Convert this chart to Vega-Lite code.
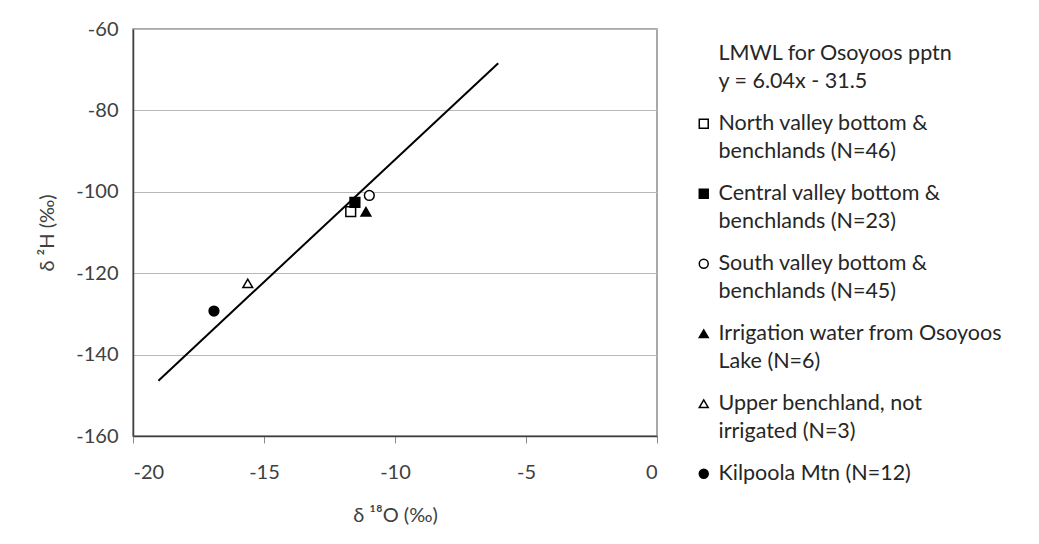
{
  "$schema": "https://vega.github.io/schema/vega-lite/v6.json",
  "width": 524,
  "height": 407,
  "autosize": {"type": "none"},
  "padding": {"left": 133, "top": 29, "right": 382, "bottom": 108},
  "background": "white",
  "config": {
    "font": "Lato",
    "view": {"stroke": "#8c8c8c", "strokeWidth": 1.5},
    "axis": {
      "labelFont": "Lato",
      "labelFontSize": 20,
      "labelColor": "#404040",
      "titleFont": "Lato",
      "titleFontSize": 20,
      "titleFontWeight": "normal",
      "titleColor": "#404040",
      "domainColor": "#404040",
      "domainWidth": 1.5,
      "labelExpr": "replace(datum.label, '−', '-')"
    }
  },
  "layer": [
    {
      "data": {"values": [
        {"d18O": -19.03, "d2H": -146.4},
        {"d18O": -6.06, "d2H": -68.4}
      ]},
      "mark": {"type": "line", "color": "black", "strokeWidth": 2},
      "encoding": {
        "x": {"field": "d18O", "type": "quantitative",
          "scale": {"domain": [-20, 0], "nice": false},
          "axis": {"values": [-20, -15, -10, -5, 0], "grid": false, "tickColor": "#8c8c8c", "tickSize": 7, "labelPadding": 19, "titlePadding": 23, "title": "δ ¹⁸O (‰)"}},
        "y": {"field": "d2H", "type": "quantitative",
          "scale": {"domain": [-160, -60], "nice": false},
          "axis": {"values": [-160, -140, -120, -100, -80, -60], "grid": true, "gridColor": "#b8b8b8", "gridWidth": 1, "ticks": false, "labelPadding": 15, "titlePadding": 18, "title": "δ ²H (‰)"}}
      }
    },
    {
      "data": {"values": [
        {"group": "North valley bottom & benchlands (N=46)", "d18O": -11.69, "d2H": -104.9},
        {"group": "Central valley bottom & benchlands (N=23)", "d18O": -11.53, "d2H": -102.6},
        {"group": "South valley bottom & benchlands (N=45)", "d18O": -10.98, "d2H": -100.9},
        {"group": "Irrigation water from Osoyoos Lake (N=6)", "d18O": -11.11, "d2H": -104.9},
        {"group": "Upper benchland, not irrigated (N=3)", "d18O": -15.62, "d2H": -122.5},
        {"group": "Kilpoola Mtn (N=12)", "d18O": -16.91, "d2H": -129.3}
      ]},
      "mark": {"type": "point", "stroke": "black", "strokeWidth": 1.5, "opacity": 1, "size": 95},
      "encoding": {
        "x": {"field": "d18O", "type": "quantitative"},
        "y": {"field": "d2H", "type": "quantitative"},
        "shape": {"field": "group", "type": "nominal",
          "scale": {
            "domain": ["LMWL for Osoyoos pptn y = 6.04x - 31.5", "North valley bottom & benchlands (N=46)", "Central valley bottom & benchlands (N=23)", "South valley bottom & benchlands (N=45)", "Irrigation water from Osoyoos Lake (N=6)", "Upper benchland, not irrigated (N=3)", "Kilpoola Mtn (N=12)"],
            "range": ["M0,0", "square", "square", "circle", "triangle-up", "triangle-up", "circle"]
          },
          "legend": {
            "title": null,
            "orient": "none",
            "legendX": 560,
            "legendY": 14,
            "labelFont": "Lato",
            "labelFontSize": 21.5,
            "labelColor": "#262626",
            "labelLimit": 400,
            "labelOffset": 4,
            "labelExpr": "split(replace(replace(replace(replace(datum.label, 'pptn ', 'pptn|'), '& ', '&|'), 'Osoyoos Lake', 'Osoyoos|Lake'), 'not ', 'not|'), '|')",
            "symbolSize": 80,
            "symbolStrokeColor": "black",
            "symbolStrokeWidth": 1.5,
            "rowPadding": 19,
            "encoding": {
              "labels": {"lineHeight": {"value": 28.5}},
              "symbols": {"stroke": {"value": "black"}, "strokeWidth": {"value": 1.5}}
            }
          }
        },
        "fill": {"field": "group", "type": "nominal",
          "scale": {
            "domain": ["LMWL for Osoyoos pptn y = 6.04x - 31.5", "North valley bottom & benchlands (N=46)", "Central valley bottom & benchlands (N=23)", "South valley bottom & benchlands (N=45)", "Irrigation water from Osoyoos Lake (N=6)", "Upper benchland, not irrigated (N=3)", "Kilpoola Mtn (N=12)"],
            "range": ["white", "white", "black", "white", "black", "white", "black"]
          }
        }
      }
    }
  ]
}
